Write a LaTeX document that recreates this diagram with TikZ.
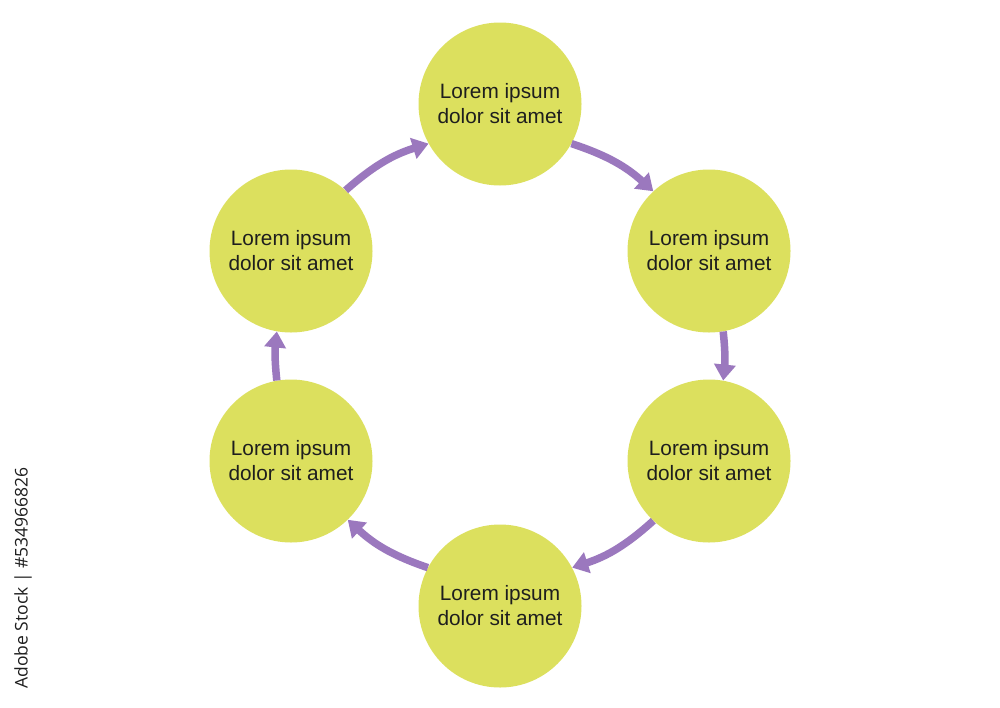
\documentclass[tikz,border=0pt]{standalone}
\usepackage{fontspec}
\setmainfont{Liberation Sans}
\newfontfamily\wmfont{Open Sans}
\usetikzlibrary{arrows.meta}
\definecolor{disc}{HTML}{DCE05E}
\definecolor{flow}{HTML}{9B78BE}
\definecolor{txt}{HTML}{1E1E1E}
\tikzset{
  stage/.style={circle, fill=disc, minimum size=163pt, inner sep=0pt,
    align=center, text=txt, font=\fontsize{20.8}{25}\selectfont},
  flowarrow/.style={draw=flow, line width=7.5pt,
    -{Triangle[width=21pt,length=16pt]}}
}
\begin{document}
\begin{tikzpicture}[x=1pt,y=-1pt]
\useasboundingbox (0,0) rectangle (1000,707);
\fill[white] (0,0) rectangle (1000,707);
\node[stage] (t)  at (500,104) {Lorem ipsum\\dolor sit amet};
\node[stage] (ur) at (709,251) {Lorem ipsum\\dolor sit amet};
\node[stage] (lr) at (709,461) {Lorem ipsum\\dolor sit amet};
\node[stage] (b)  at (500,606) {Lorem ipsum\\dolor sit amet};
\node[stage] (ll) at (291,461) {Lorem ipsum\\dolor sit amet};
\node[stage] (ul) at (291,251) {Lorem ipsum\\dolor sit amet};
\draw[flowarrow] (t.-29)   to[bend left=12] (ur.133);
\draw[flowarrow] (ur.-80)  to[bend left=6]  (lr.80);
\draw[flowarrow] (lr.-133) to[bend left=12] (b.28);
\draw[flowarrow] (b.152)   to[bend left=12] (ll.-46);
\draw[flowarrow] (ll.100)  to[bend left=6]  (ul.-100);
\draw[flowarrow] (ul.48)   to[bend left=12] (t.-151);
\node[rotate=90, text=txt, font=\wmfont\fontsize{17.5}{20}\selectfont, inner sep=0pt] (wm) at (23,578) {Adobe Stock | \#534966826};
\end{tikzpicture}
\end{document}
